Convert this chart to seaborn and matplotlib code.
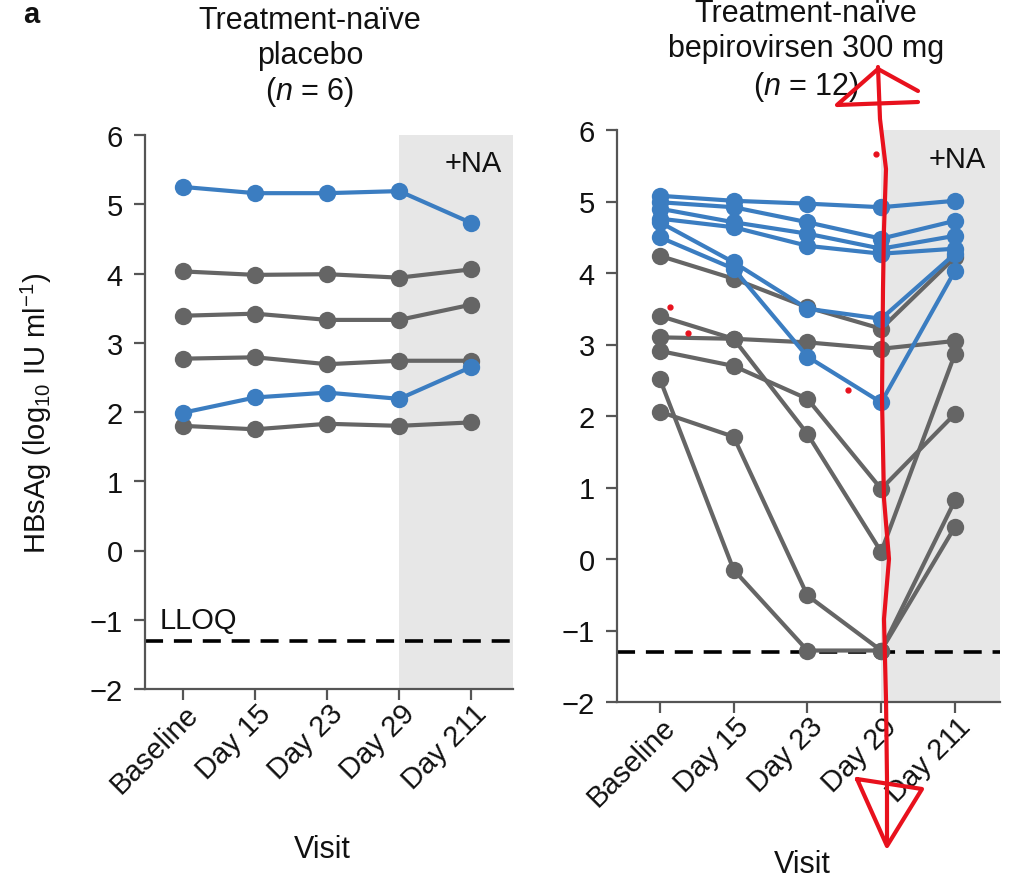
import numpy as np
import pandas as pd
import matplotlib
matplotlib.use("Agg")
import matplotlib.pyplot as plt
import matplotlib.transforms as mtransforms
import seaborn as sns
from matplotlib.lines import Line2D

# ---------------- data ----------------
visits = ["Baseline", "Day 15", "Day 23", "Day 29", "Day 211"]
lloq = -1.3

# placebo panel (n = 6)
placebo_blue = [
    [5.25, 5.16, 5.16, 5.19, 4.73],
    [1.99, 2.21, 2.28, 2.19, 2.65],
]
placebo_gray = [
    [4.03, 3.98, 3.99, 3.94, 4.06],
    [3.39, 3.42, 3.33, 3.33, 3.55],
    [2.77, 2.79, 2.69, 2.74, 2.74],
    [1.80, 1.75, 1.83, 1.80, 1.85],
]

# bepirovirsen 300 mg panel (n = 12)
bepi_blue = [
    [5.08, 5.01, 4.97, 4.92, 5.01],
    [4.99, 4.92, 4.71, 4.48, 4.73],
    [4.90, 4.71, 4.55, 4.34, 4.52],
    [4.76, 4.64, 4.38, 4.27, 4.34],
    [4.71, 4.15, 3.50, 3.36, 4.27],
    [4.50, 4.06, 2.83, 2.19, 4.03],
]
bepi_gray = [
    [4.24, 3.92, 3.52, 3.22, 4.22],
    [3.40, 3.08, 1.75, 0.10, 2.87],
    [3.10, 3.08, 3.03, 2.94, 3.05],
    [2.91, 2.70, 2.24, 0.98, 2.03],
    [2.52, -0.15, -1.28, -1.28, 0.82],
    [2.06, 1.71, -0.51, -1.28, 0.45],
]

BLUE = "#3b7dc1"
GRAY = "#656565"
SHADE = "#e7e7e7"
SPINE = "#555555"


def to_long(blue, gray):
    rows = []
    sid = 0
    for grp, series in (("other", gray), ("highlight", blue)):
        for s in series:
            for i, v in enumerate(s):
                rows.append({"subject": sid, "visit": i, "value": v, "group": grp})
            sid += 1
    return pd.DataFrame(rows)


sns.set_style("ticks")
plt.rcParams["font.family"] = ["Liberation Sans", "DejaVu Sans"]
plt.rcParams["mathtext.fontset"] = "custom"
plt.rcParams["mathtext.rm"] = "Liberation Sans"
plt.rcParams["mathtext.it"] = "Liberation Sans:italic"
plt.rcParams["mathtext.bf"] = "Liberation Sans:bold"
plt.rcParams["axes.unicode_minus"] = True
plt.rcParams["text.color"] = "#111111"
plt.rcParams["axes.labelcolor"] = "#111111"

W, H = 1012, 878
fig = plt.figure(figsize=(W / 100, H / 100), dpi=100)


def px_rect(x0, x1, ytop, ybot):
    return [x0 / W, 1 - ybot / H, (x1 - x0) / W, (ybot - ytop) / H]


ax1 = fig.add_axes(px_rect(145, 513, 136, 690))
ax2 = fig.add_axes(px_rect(617, 1000, 131, 703))

FS = 21
FT = 22

panels = [
    (ax1, to_long(placebo_blue, placebo_gray), (-0.53, 4.58)),
    (ax2, to_long(bepi_blue, bepi_gray), (-0.58, 4.61)),
]

for ax, df, xl in panels:
    ax.axvspan(3, xl[1], color=SHADE, lw=0, zorder=0)
    ax.axhline(lloq, color="black", lw=2.6, linestyle=(0, (5, 3)), zorder=1)
    sns.lineplot(
        data=df, x="visit", y="value", units="subject", estimator=None,
        hue="group", hue_order=["other", "highlight"],
        palette={"other": GRAY, "highlight": BLUE},
        marker="o", markersize=12.5, markeredgewidth=0, linewidth=3,
        legend=False, sort=False, ax=ax, zorder=3,
    )
    ax.set_xlim(*xl)
    ax.set_ylim(-2, 6)
    ax.set_yticks(range(-2, 7))
    ax.set_xticks(range(len(visits)))
    ax.set_xticklabels(visits, rotation=45, ha="right", va="center",
                       rotation_mode="anchor", fontsize=FS)
    ax.tick_params(axis="y", labelsize=FS, pad=8)
    ax.tick_params(axis="x", pad=10)
    ax.tick_params(axis="both", length=8, width=1.6, color=SPINE,
                   direction="out", labelcolor="#111111")
    sns.despine(ax=ax)
    for sp in ("left", "bottom"):
        ax.spines[sp].set_color(SPINE)
        ax.spines[sp].set_linewidth(1.6)
    ax.set_xlabel("Visit", fontsize=FT)
    ax.set_ylabel("")
    ax.text(4.03, 5.6, "+NA", fontsize=FS, ha="center", va="center")

ax1.set_ylabel(r"HBsAg (log$_{10}$ IU ml$^{-1}$)", fontsize=FS)
ax1.yaxis.set_label_coords((54 - 145) / 368, 0.5)
ax1.xaxis.set_label_coords((322 - 145) / 368, (690 - 835) / 554)
ax2.xaxis.set_label_coords((802 - 617) / 383, (703 - 850) / 572)
ax1.text(-0.33, -1.0, "LLOQ", fontsize=FS, ha="left", va="center")

# shift rotated tick labels slightly right/up (after all tick_params calls)
shift = mtransforms.ScaledTranslation(11 / 100, 5 / 100, fig.dpi_scale_trans)
for ax in (ax1, ax2):
    for lab in ax.get_xticklabels():
        lab.set_transform(lab.get_transform() + shift)

# titles
def ftext(x, y, s, **kw):
    fig.text(x / W, 1 - y / H, s, fontsize=FT, ha="center", va="baseline", **kw)

ftext(310, 29, "Treatment-naïve")
ftext(310, 64, "placebo")
ftext(310, 100, "($n$ = 6)")
ftext(806, 22, "Treatment-naïve")
ftext(806, 57, "bepirovirsen 300 mg")
ftext(806, 95, "($n$ = 12)")
fig.text(23 / W, 1 - 1 / H, "a", fontsize=FS, fontweight="bold",
         ha="left", va="top")

# hand-drawn red annotation over the figure
RED = "#e8111d"
def fx(x):
    return x / W
def fy(y):
    return 1 - y / H

line_px = [(878, 68), (880, 120), (886, 170), (884, 230), (883, 290),
           (882, 400), (884, 500), (889, 560), (884, 620), (886, 700),
           (887, 780), (887, 845)]
fig.add_artist(Line2D([fx(p[0]) for p in line_px], [fy(p[1]) for p in line_px],
                      color=RED, lw=3, transform=fig.transFigure, zorder=10,
                      solid_capstyle="round"))
top_head = [(918, 92), (878, 70), (837, 106), (918, 103)]
fig.add_artist(Line2D([fx(p[0]) for p in top_head], [fy(p[1]) for p in top_head],
                      color=RED, lw=3, transform=fig.transFigure, zorder=10,
                      solid_capstyle="round", solid_joinstyle="round"))
bot_head = [(857, 780), (922, 790), (887, 847), (857, 780)]
fig.add_artist(Line2D([fx(p[0]) for p in bot_head], [fy(p[1]) for p in bot_head],
                      color=RED, lw=3, transform=fig.transFigure, zorder=10,
                      solid_capstyle="round", solid_joinstyle="round"))
for (x, y) in [(670, 308), (688, 334), (848, 391), (876, 155)]:
    fig.add_artist(Line2D([fx(x)], [fy(y)], marker="o", markersize=3.5,
                          color=RED, transform=fig.transFigure, zorder=10))

fig.savefig("out.png", dpi=100)
